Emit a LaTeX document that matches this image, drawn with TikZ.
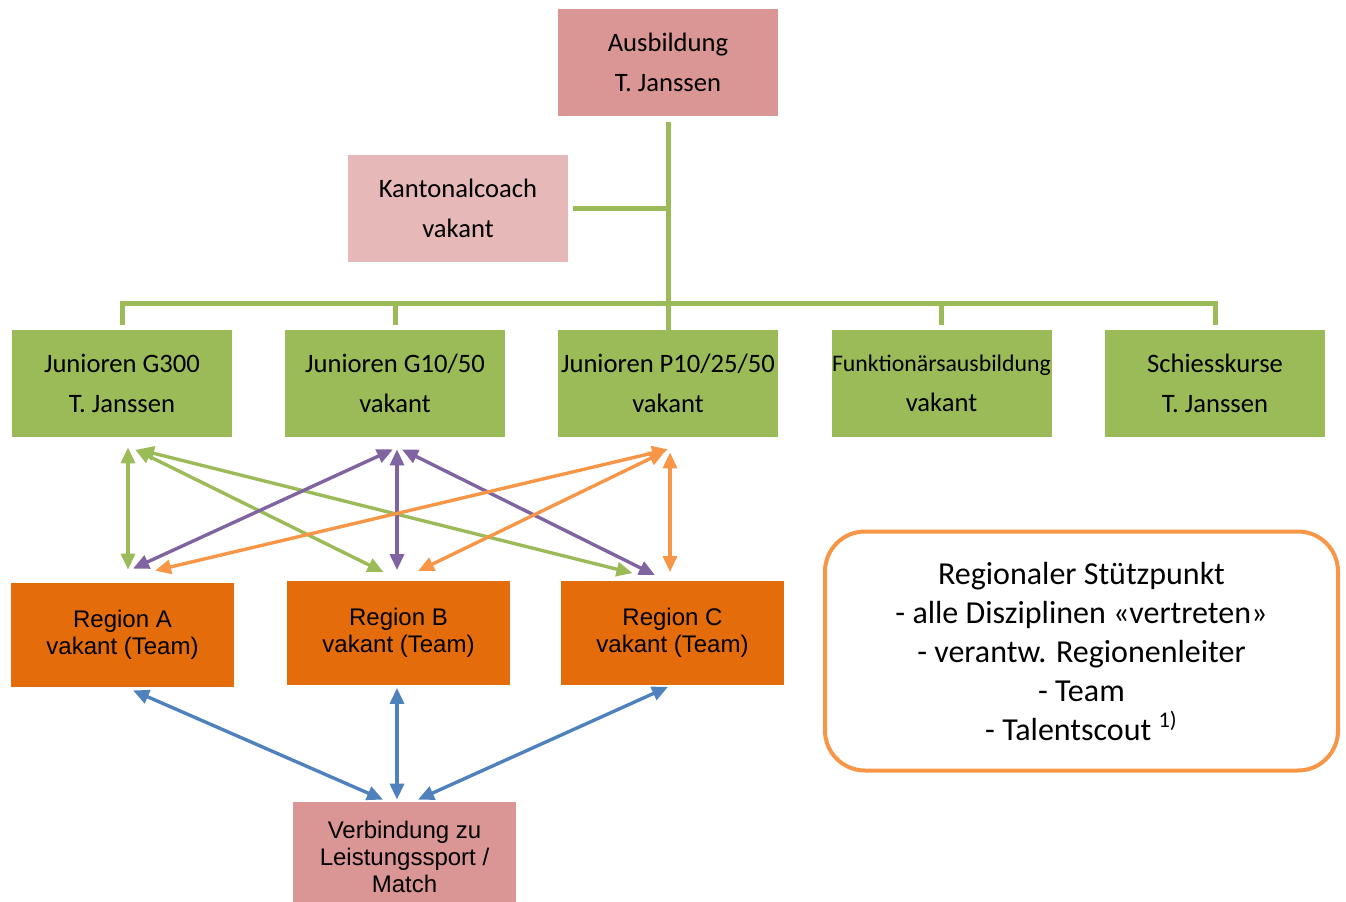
\documentclass[tikz,border=0pt]{standalone}
\usepackage{fontspec}
\setmainfont{Carlito}
\newfontfamily\arialfont{Liberation Sans}
\usetikzlibrary{arrows.meta}

\definecolor{rosedark}{HTML}{DA9694}
\definecolor{roselight}{HTML}{E6B8B7}
\definecolor{juniorgreen}{HTML}{9BBB59}
\definecolor{regionorange}{HTML}{E46C0A}
\definecolor{linkpurple}{HTML}{8064A2}
\definecolor{linkorange}{HTML}{F79646}
\definecolor{linkblue}{HTML}{4F81BD}

\begin{document}
\begin{tikzpicture}[x=0.5pt,y=-0.5pt,<->,>={Triangle[length=8pt,width=7pt]},
  org box/.style={rectangle,fill=#1,minimum width=110pt,minimum height=53.5pt,
    inner sep=0pt,align=center,font=\fontsize{13.3}{20}\selectfont},
  region box/.style={rectangle,fill=#1,minimum width=111.5pt,minimum height=52pt,
    inner sep=0pt,align=center,font=\arialfont\fontsize{12}{13.5}\selectfont},
  tree/.style={-,juniorgreen,line width=2.5pt},
  link/.style={#1,line width=1.7pt}]

  \useasboundingbox (0,0) rectangle (1346,901);

  % leitung
  \node[org box=rosedark] (ausb) at (668,62.5) {Ausbildung\\T. Janssen};
  \node[org box=roselight] (kanton) at (458,208.5) {Kantonalcoach\\vakant};

  % junioren und kurse
  \node[org box=juniorgreen] (jg300) at (122,383.5) {Junioren G300\\T. Janssen};
  \node[org box=juniorgreen] (jg1050) at (395,383.5) {Junioren G10/50\\vakant};
  \node[org box=juniorgreen] (jp) at (668,383.5) {Junioren P10/25/50\\vakant};
  \node[org box=juniorgreen] (funkt) at (941.5,383.5) {{\fontsize{11.9}{20}\selectfont Funktionärsausbildung}\\vakant};
  \node[org box=juniorgreen] (schiess) at (1215,383.5) {Schiesskurse\\T. Janssen};

  % regionen
  \node[region box=regionorange] (regA) at (122.5,635) {Region A\\vakant (Team)};
  \node[region box=regionorange] (regB) at (398.5,632.5) {Region B\\vakant (Team)};
  \node[region box=regionorange] (regC) at (672.5,632.5) {Region C\\vakant (Team)};
  \node[region box=rosedark,minimum height=55pt] (verb) at (404.5,857)
    {Verbindung zu\\Leistungssport /\\Match};

  \node[rectangle,draw=linkorange,line width=2pt,rounded corners=20pt,
    minimum width=256.5pt,minimum height=119.5pt,align=center,
    font=\fontsize{16}{19.5}\selectfont] (stuetz) at (1081.5,651)
    {Regionaler Stützpunkt\\- alle Disziplinen «vertreten»\\- verantw. Regionenleiter\\- Team\\- Talentscout \textsuperscript{1)}};

  % organigramm
  \coordinate (bar) at (668,303);
  \draw[tree] ([yshift=-3pt]ausb.south) -- (jp.north);
  \draw[tree] ([xshift=2.5pt]kanton.east) -- (kanton.east -| ausb.south);
  \draw[tree] ([yshift=2.5pt]jg300.north) |- (bar) -| ([yshift=2.5pt]schiess.north);
  \draw[tree] (bar -| jg1050.north) -- ([yshift=2.5pt]jg1050.north);
  \draw[tree] (bar -| funkt.north) -- ([yshift=2.5pt]funkt.north);

  % verbindungen junioren - regionen
  \draw[link=juniorgreen] ([shift={(6,10)}]jg300.south) -- ([shift={(5.5,-13)}]regA.north);
  \draw[link=juniorgreen] ([shift={(13,12)}]jg300.south) -- ([shift={(-15,-8)}]regB.north);
  \draw[link=juniorgreen] ([shift={(16,12)}]jg300.south) -- ([shift={(-40,-7)}]regC.north);
  \draw[link=linkpurple] ([shift={(-2,12)}]jg1050.south) -- ([shift={(10.5,-14)}]regA.north);
  \draw[link=linkpurple] ([shift={(2,12)}]jg1050.south) -- ([shift={(-1.5,-10)}]regB.north);
  \draw[link=linkpurple] ([shift={(7,12)}]jg1050.south) -- ([shift={(-17.5,-5)}]regC.north);
  \draw[link=linkorange] ([shift={(0,12)}]jp.south) -- ([shift={(32.5,-12)}]regA.north);
  \draw[link=linkorange] ([shift={(-3,14)}]jp.south) -- ([shift={(19.5,-9)}]regB.north);
  \draw[link=linkorange] ([shift={(2,15)}]jp.south) -- ([shift={(-2.5,-8)}]regC.north);

  % verbindungen regionen - leistungssport
  \draw[link=linkblue] ([shift={(10.5,3)}]regA.south) -- ([shift={(-21.5,-2)}]verb.north);
  \draw[link=linkblue] ([shift={(-1.5,3)}]regB.south) -- ([shift={(-7.5,-2)}]verb.north);
  \draw[link=linkblue] ([shift={(-4.5,2)}]regC.south) -- ([shift={(13.5,-2)}]verb.north);
\end{tikzpicture}
\end{document}
